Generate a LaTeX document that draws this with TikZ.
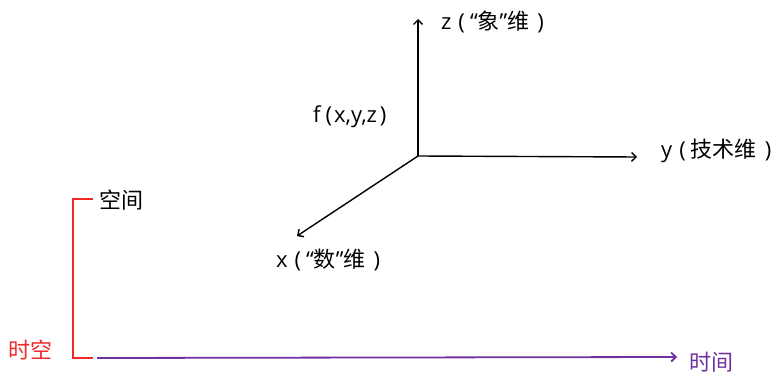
\documentclass[tikz,border=0pt]{standalone}
\usepackage{fontspec}
\newfontfamily\cjk{Noto Sans CJK SC}
\newfontfamily\lat{Open Sans}
\usetikzlibrary{arrows.meta,positioning}
\definecolor{SpaceRed}{HTML}{F02828}
\definecolor{TimePurple}{HTML}{7030A0}
\newcommand{\lpar}{{\lat\kern7pt(\kern5pt}}
\newcommand{\rpar}{{\lat\kern8pt)}}
\newcommand{\oquote}{{\lat“}}
\newcommand{\cquote}{{\lat”}}

\begin{document}
\begin{tikzpicture}[x=1pt,y=-1pt,font=\cjk\fontsize{22}{26}\selectfont,
    axis/.style={line width=1.4pt,-{Straight Barb[length=4.5pt,width=9pt]}},
    lbl/.style={inner sep=0pt}]
  \useasboundingbox (0,0) rectangle (771,374);
  % axes
  \coordinate (O) at (418,156);
  \coordinate (zend) at (418,19);
  \coordinate (yend) at (637,157);
  \coordinate (xend) at (297,236);
  \draw[axis] (O) -- (zend);
  \draw[axis] (O) -- (yend);
  \draw[axis] (O) -- (xend);
  \node[lbl,anchor=west] (zlbl) at (441,22) {{\lat z}\lpar\oquote 象\cquote 维\rpar};
  \node[lbl,anchor=west] (ylbl) at (661,151) {{\lat y}\lpar 技术维\rpar};
  \node[lbl,anchor=west] (xlbl) at (276,260) {{\lat x}\lpar\oquote 数\cquote 维\rpar};
  \node[lbl,anchor=west] (flbl) at (313,117) {\lat f\kern5pt(\kern2pt x,y,z\kern3pt)};
  % space-time
  \coordinate (stop) at (93,199);
  \coordinate (sbot) at (93,358);
  \draw[SpaceRed,line width=1.5pt] (stop) -| (73,358) -- (sbot);
  \node[lbl,anchor=west] (space) at (99,200) {空间};
  \node[lbl,anchor=west,text=SpaceRed] (spacetime) at (8,350) {时空};
  \coordinate (tstart) at (97,358);
  \coordinate (tend) at (677,357);
  \draw[TimePurple,line width=1.8pt,-{Straight Barb[length=4.5pt,width=9pt]}] (tstart) -- (tend);
  \node[lbl,anchor=west,text=TimePurple] (time) at (689,362) {时间};
\end{tikzpicture}
\end{document}
